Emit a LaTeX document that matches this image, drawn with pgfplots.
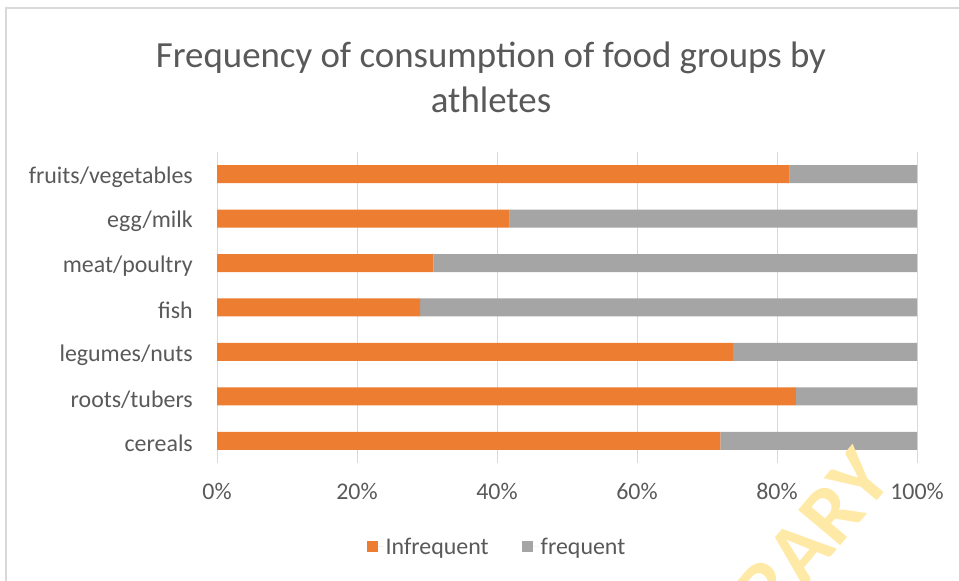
\documentclass[border=0pt]{standalone}
\usepackage{pgfplots}
\pgfplotsset{compat=1.18}
\usepackage{fontspec}
\setmainfont{Carlito}
\definecolor{orng}{HTML}{ED7D31}
\definecolor{gry}{HTML}{A5A5A5}
\definecolor{txt}{HTML}{595959}
\definecolor{gridc}{HTML}{D9D9D9}
\definecolor{wm}{HTML}{FFE9A6}
\begin{document}
\begin{tikzpicture}[x=1bp,y=1bp]
\useasboundingbox (0,0) rectangle (959,581);
\draw[gridc, line width=1.5bp] (6,0) -- (6,573) -- (959,573);
\node[txt, font=\fontsize{37}{45}\selectfont, align=center] at (491,504) {Frequency of consumption of food groups by\\athletes};
\begin{axis}[at={(217bp,118bp)}, anchor=south west, scale only axis,
  width=700bp, height=311bp,
  xbar stacked, bar width=18bp,
  xmin=0, xmax=100, ymin=-0.5, ymax=6.5,
  ytick={0,...,6},
  yticklabels={cereals,roots/tubers,legumes/nuts,fish,meat/poultry,egg/milk,fruits/vegetables},
  xtick={0,20,...,100},
  xticklabel={\pgfmathprintnumber{\tick}\%},
  /pgf/number format/assume math mode=true,
  axis line style={draw=none}, major tick length=0pt,
  xmajorgrids, grid style={gridc, line width=1bp},
  ticklabel style={txt, font=\fontsize{24}{29}\selectfont, inner sep=0pt},
  yticklabel style={yshift=-3bp},
  xticklabel shift=20bp, yticklabel shift=24bp,
  legend style={draw=none, at={(0.4,-0.27)}, anchor=center, legend columns=2,
    font=\fontsize{24}{29}\selectfont, text=txt, inner sep=0pt,
    /tikz/every even column/.append style={column sep=31bp}},
  legend image code/.code={\path (0bp,0bp) -- (17bp,0bp); \fill[#1] (0bp,-5.5bp) rectangle (11bp,5.5bp);},
]
\addplot[fill=orng, draw=none] coordinates {(71.9,0) (82.7,1) (73.7,2) (29.0,3) (30.9,4) (41.8,5) (81.8,6)};
\addplot[fill=gry, draw=none] coordinates {(28.1,0) (17.3,1) (26.3,2) (71.0,3) (69.1,4) (58.2,5) (18.2,6)};
\legend{Infrequent, frequent}
\end{axis}
\begin{scope}
\clip (0,0) rectangle (959,581);
\node[wm, font=\fontsize{85}{90}\selectfont\bfseries, rotate=50, anchor=base east, inner sep=0pt] at (895,101) {LIBRARY};
\end{scope}
\end{tikzpicture}
\end{document}
